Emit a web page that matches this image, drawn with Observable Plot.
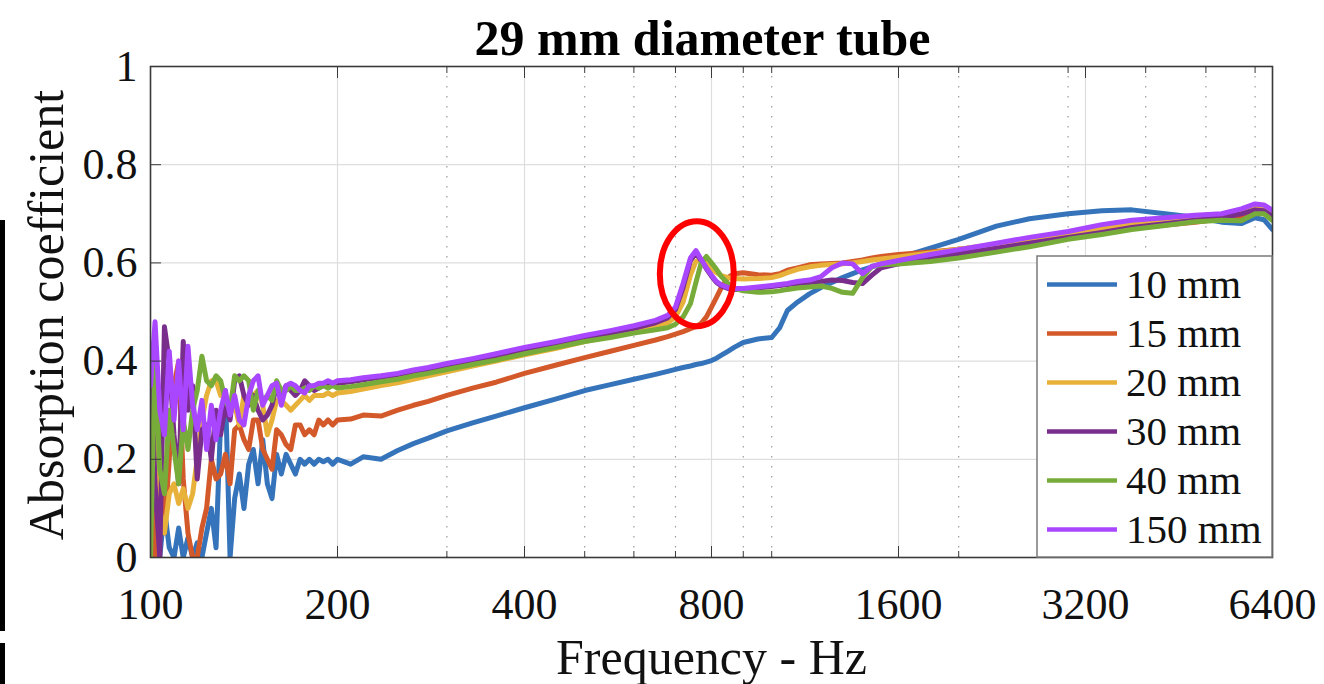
<!DOCTYPE html>
<html>
<head>
<meta charset="utf-8">
<script src="https://cdn.jsdelivr.net/npm/d3@7"></script>
<script src="https://cdn.jsdelivr.net/npm/@observablehq/plot@0.6"></script>
<style>
html, body { margin: 0; padding: 0; background: #fff; }
#chart { position: relative; width: 1324px; height: 684px; overflow: hidden; background: #fff; }
.edge { position: absolute; left: 0; width: 5px; background: #000; }
</style>
</head>
<body>
<div id="chart">
  <div class="edge" style="top:220px;height:411px"></div>
  <div class="edge" style="top:643px;height:41px"></div>
</div>
<script>
// ---------------- data ----------------
const title = "29 mm diameter tube";
const xLabel = "Frequency - Hz";
const yLabel = "Absorption coefficient";

const seriesNames = ["10 mm", "15 mm", "20 mm", "30 mm", "40 mm", "150 mm"];
const seriesColors = ["#3574ba", "#d4592a", "#e8b23a", "#7a2e8c", "#78ac3a", "#a847ff"];

const xTicks = [100, 200, 400, 800, 1600, 3200, 6400];
const xMinorTicks = [300, 500, 600, 700, 900, 1000, 2000, 3000, 4000, 5000, 6000];
const yTicks = [0, 0.2, 0.4, 0.6, 0.8, 1];

// frequency (Hz) of each reading
const freq = [
  100, 101.7, 103.5, 105.3, 107.2, 109.1, 111.0, 112.9, 114.9, 116.9,
  118.9, 121.0, 123.1, 125.3, 127.5, 129.7, 132.0, 134.3, 136.6, 139.0,
  141.4, 143.9, 146.4, 149.0, 151.6, 154.2, 156.9, 159.6, 162.4, 165.3,
  168.2, 171.1, 174.1, 177.1, 180.2, 183.4, 186.6, 189.8, 193.1, 196.5,
  200,
  210, 220, 235, 250, 265, 280, 300, 330, 360, 400,
  450, 500, 550, 600, 650, 680, 700, 720, 740, 755,
  770, 785, 800, 815, 830, 850, 870, 900, 950, 1000,
  1030, 1060, 1100, 1150, 1200, 1250, 1300, 1350, 1400, 1450,
  1500, 1600, 1800, 2000, 2300, 2600, 3000, 3400, 3800, 4300,
  4800, 5300, 5700, 6000, 6200, 6400
];

const abs10 = [
  0.27, 0.02, 0.00, 0.10, 0.02, 0.00, 0.06, 0.00, 0.04, 0.00,
  0.03, 0.00, 0.05, 0.10, 0.02, 0.28, 0.34, 0.00, 0.12, 0.17,
  0.10, 0.19, 0.22, 0.15, 0.24, 0.15, 0.12, 0.21, 0.17, 0.21,
  0.19, 0.17, 0.20, 0.19, 0.20, 0.19, 0.20, 0.195, 0.20, 0.19,
  0.20,
  0.19, 0.205, 0.20, 0.218, 0.232, 0.243, 0.258, 0.274, 0.288, 0.305,
  0.323, 0.34, 0.352, 0.363, 0.373, 0.379, 0.383, 0.387, 0.39, 0.393,
  0.395, 0.398, 0.401, 0.406, 0.412, 0.42, 0.428, 0.438, 0.445, 0.448,
  0.468, 0.503, 0.52, 0.537, 0.55, 0.56, 0.57, 0.578, 0.586, 0.592,
  0.598, 0.61, 0.63, 0.648, 0.675, 0.69, 0.70, 0.706, 0.708, 0.70,
  0.693, 0.683, 0.68, 0.692, 0.688, 0.668
];

const abs15 = [
  0.15, 0.00, 0.22, 0.05, 0.20, 0.35, 0.40, 0.16, 0.05, 0.00,
  0.00, 0.06, 0.10, 0.20, 0.16, 0.17, 0.21, 0.15, 0.26, 0.27,
  0.24, 0.22, 0.28, 0.28, 0.22, 0.20, 0.18, 0.26, 0.25, 0.23,
  0.22, 0.27, 0.27, 0.25, 0.26, 0.25, 0.28, 0.27, 0.28, 0.27,
  0.28,
  0.282, 0.29, 0.288, 0.30, 0.31, 0.318, 0.33, 0.345, 0.357, 0.375,
  0.392, 0.407, 0.42, 0.432, 0.443, 0.45, 0.455, 0.46, 0.466, 0.47,
  0.477, 0.49, 0.51, 0.53, 0.55, 0.57, 0.578, 0.58, 0.576, 0.575,
  0.578, 0.585, 0.59, 0.596, 0.598, 0.599, 0.60, 0.603, 0.606, 0.61,
  0.613, 0.617, 0.622, 0.628, 0.635, 0.642, 0.652, 0.662, 0.67, 0.677,
  0.683, 0.69, 0.695, 0.703, 0.70, 0.692
];

const abs20 = [
  0.21, 0.30, 0.10, 0.05, 0.13, 0.15, 0.11, 0.14, 0.10, 0.13,
  0.20, 0.28, 0.33, 0.36, 0.36, 0.33, 0.33, 0.30, 0.31, 0.27,
  0.33, 0.32, 0.33, 0.34, 0.31, 0.25, 0.28, 0.32, 0.32, 0.31,
  0.30, 0.31, 0.32, 0.33, 0.32, 0.33, 0.33, 0.33, 0.335, 0.33,
  0.335,
  0.338, 0.343, 0.35, 0.356, 0.363, 0.37, 0.378, 0.39, 0.40, 0.413,
  0.426, 0.44, 0.45, 0.46, 0.47, 0.478, 0.49, 0.52, 0.575, 0.603,
  0.608, 0.598, 0.588, 0.58, 0.574, 0.57, 0.568, 0.567, 0.568, 0.57,
  0.574, 0.58, 0.587, 0.592, 0.595, 0.597, 0.598, 0.60, 0.603, 0.606,
  0.608, 0.612, 0.62, 0.628, 0.638, 0.648, 0.66, 0.67, 0.678, 0.685,
  0.692, 0.697, 0.703, 0.712, 0.71, 0.70
];

const abs30 = [
  0.40, 0.15, 0.00, 0.47, 0.40, 0.25, 0.15, 0.44, 0.30, 0.35,
  0.16, 0.26, 0.27, 0.20, 0.30, 0.25, 0.31, 0.28, 0.36, 0.37,
  0.33, 0.31, 0.33, 0.30, 0.28, 0.29, 0.31, 0.35, 0.33, 0.35,
  0.34, 0.33, 0.34, 0.36, 0.35, 0.34, 0.345, 0.35, 0.35, 0.355,
  0.355,
  0.358, 0.362, 0.367, 0.372, 0.378, 0.383, 0.39, 0.40, 0.41, 0.423,
  0.435, 0.447, 0.457, 0.467, 0.478, 0.488, 0.505, 0.55, 0.605, 0.62,
  0.605, 0.588, 0.573, 0.56, 0.553, 0.548, 0.546, 0.546, 0.549, 0.552,
  0.554, 0.556, 0.558, 0.56, 0.562, 0.565, 0.564, 0.56, 0.558, 0.575,
  0.59, 0.598, 0.61, 0.618, 0.63, 0.64, 0.652, 0.662, 0.672, 0.68,
  0.687, 0.692, 0.70, 0.708, 0.706, 0.695
];

const abs40 = [
  0.00, 0.42, 0.18, 0.13, 0.30, 0.22, 0.15, 0.28, 0.22, 0.30,
  0.34, 0.41, 0.36, 0.35, 0.37, 0.36, 0.32, 0.30, 0.37, 0.36,
  0.37, 0.36, 0.30, 0.34, 0.32, 0.33, 0.32, 0.36, 0.34, 0.34,
  0.35, 0.34, 0.34, 0.345, 0.34, 0.35, 0.345, 0.35, 0.345, 0.35,
  0.345,
  0.348, 0.352, 0.358, 0.363, 0.37, 0.375, 0.383, 0.393, 0.402, 0.415,
  0.428, 0.44, 0.448, 0.457, 0.464, 0.468, 0.475, 0.49, 0.517, 0.56,
  0.60, 0.613, 0.60, 0.587, 0.572, 0.558, 0.548, 0.543, 0.54, 0.541,
  0.543, 0.546, 0.549, 0.551, 0.553, 0.548, 0.54, 0.538, 0.57, 0.593,
  0.596, 0.598, 0.603, 0.61, 0.622, 0.633, 0.648, 0.658, 0.668, 0.676,
  0.684, 0.687, 0.686, 0.70, 0.70, 0.686
];

const abs150 = [
  0.35, 0.48, 0.30, 0.25, 0.42, 0.28, 0.40, 0.26, 0.43, 0.31,
  0.26, 0.32, 0.22, 0.31, 0.24, 0.30, 0.34, 0.29, 0.33, 0.28,
  0.27, 0.33, 0.36, 0.37, 0.31, 0.33, 0.35, 0.355, 0.31, 0.35,
  0.355, 0.35, 0.34, 0.335, 0.35, 0.35, 0.355, 0.355, 0.36, 0.355,
  0.36,
  0.362, 0.366, 0.37, 0.375, 0.382, 0.387, 0.395, 0.405, 0.415, 0.428,
  0.44, 0.452, 0.462, 0.472, 0.483, 0.493, 0.51, 0.558, 0.61, 0.625,
  0.607, 0.59, 0.575, 0.562, 0.555, 0.55, 0.548, 0.548, 0.551, 0.554,
  0.556, 0.558, 0.562, 0.565, 0.572, 0.59, 0.60, 0.598, 0.578, 0.593,
  0.598, 0.605, 0.617, 0.627, 0.64, 0.652, 0.664, 0.678, 0.687, 0.692,
  0.697, 0.70, 0.71, 0.72, 0.718, 0.707
];

// highlighted peak (red ellipse centre)
const highlightFreq = 759;
const highlightValue = 0.577;

// ---------------- chart ----------------
const seriesValues = [abs10, abs15, abs20, abs30, abs40, abs150];
const rows = seriesNames.flatMap((s, j) =>
  freq.map((f, i) => ({f, v: seriesValues[j][i], s}))
);

const serif = "'Liberation Serif', 'Times New Roman', Times, serif";
const axisColor = "#3a3a3a";

function ellipseMark(index, scales) {
  const g = d3.create("svg:g");
  g.append("ellipse")
    .attr("cx", scales.x(highlightFreq))
    .attr("cy", scales.y(highlightValue))
    .attr("rx", 37)
    .attr("ry", 52.5)
    .attr("fill", "none")
    .attr("stroke", "#ff0000")
    .attr("stroke-width", 6);
  return g.node();
}

function legendMark(index, scales, values, dimensions) {
  const {width, height, marginRight, marginBottom} = dimensions;
  const right = width - marginRight;
  const bottom = height - marginBottom;
  const boxW = 235, boxH = 301;
  const x0 = right - boxW, y0 = bottom - boxH;
  const g = d3.create("svg:g");
  g.append("rect")
    .attr("x", x0).attr("y", y0).attr("width", boxW).attr("height", boxH)
    .attr("fill", "#fff").attr("stroke", "#7a7a7a").attr("stroke-width", 1.5);
  seriesNames.forEach((name, i) => {
    const y = y0 + 28.5 + i * 49;
    g.append("line")
      .attr("x1", x0 + 10).attr("x2", x0 + 80)
      .attr("y1", y).attr("y2", y)
      .attr("stroke", seriesColors[i]).attr("stroke-width", 4.5);
    g.append("text")
      .attr("x", x0 + 89).attr("y", y).attr("dy", "0.34em")
      .attr("text-anchor", "start")
      .attr("font-family", serif).attr("font-size", 41)
      .attr("fill", "#111")
      .text(name);
  });
  return g.node();
}

const chart = Plot.plot({
  width: 1324,
  height: 684,
  marginLeft: 150,
  marginRight: 52,
  marginTop: 66,
  marginBottom: 127,
  style: {fontFamily: serif, fontSize: "44px", color: "#111", background: "#fff", overflow: "visible"},
  x: {type: "log", domain: [100, 6400]},
  y: {domain: [0, 1]},
  color: {domain: seriesNames, range: seriesColors},
  marks: [
    Plot.gridX(xMinorTicks, {stroke: "#9a9a9a", strokeOpacity: 1, strokeWidth: 1.2, strokeDasharray: "1.5,8.5"}),
    Plot.gridX(xTicks, {stroke: "#dedede", strokeOpacity: 1, strokeWidth: 1.2}),
    Plot.gridY(yTicks, {stroke: "#dedede", strokeOpacity: 1, strokeWidth: 1.2}),
    Plot.line(rows, {x: "f", y: "v", z: "s", stroke: "s", strokeWidth: 5, strokeLinejoin: "round", strokeLinecap: "round", clip: true}),
    ellipseMark,
    Plot.frame({stroke: axisColor, strokeWidth: 1.6}),
    Plot.axisX(xTicks, {anchor: "bottom", tickSize: -11, tickFormat: () => "", stroke: axisColor, label: null}),
    Plot.axisX(xTicks, {anchor: "top", tickSize: -11, tickFormat: () => "", stroke: axisColor, label: null}),
    Plot.axisX(xMinorTicks, {anchor: "bottom", tickSize: -6, tickFormat: () => "", stroke: axisColor, label: null}),
    Plot.axisX(xMinorTicks, {anchor: "top", tickSize: -6, tickFormat: () => "", stroke: axisColor, label: null}),
    Plot.axisY(yTicks, {anchor: "left", tickSize: -11, tickFormat: () => "", stroke: axisColor, label: null}),
    Plot.axisY(yTicks, {anchor: "right", tickSize: -11, tickFormat: () => "", stroke: axisColor, label: null}),
    Plot.axisX(xTicks, {anchor: "bottom", tickSize: 0, tickPadding: 30, tickFormat: d => String(d), fontSize: 44, fill: "#111", label: null}),
    Plot.axisY(yTicks, {anchor: "left", tickSize: 0, tickPadding: 13, tickFormat: d => String(d), fontSize: 44, fill: "#111", label: null}),
    legendMark,
    Plot.text([title], {frameAnchor: "top", text: d => d, dy: -28, dx: -9, lineAnchor: "middle", textAnchor: "middle", fontSize: 50, fontWeight: "bold", fill: "#000"}),
    Plot.text([xLabel], {frameAnchor: "bottom", text: d => d, dy: 100, lineAnchor: "middle", textAnchor: "middle", fontSize: 50, fill: "#111"}),
    Plot.text([yLabel], {frameAnchor: "left", text: d => d, dx: -104, dy: 3, rotate: -90, lineAnchor: "middle", textAnchor: "middle", fontSize: 50, fill: "#111"})
  ]
});

document.getElementById("chart").prepend(chart);
</script>
</body>
</html>
